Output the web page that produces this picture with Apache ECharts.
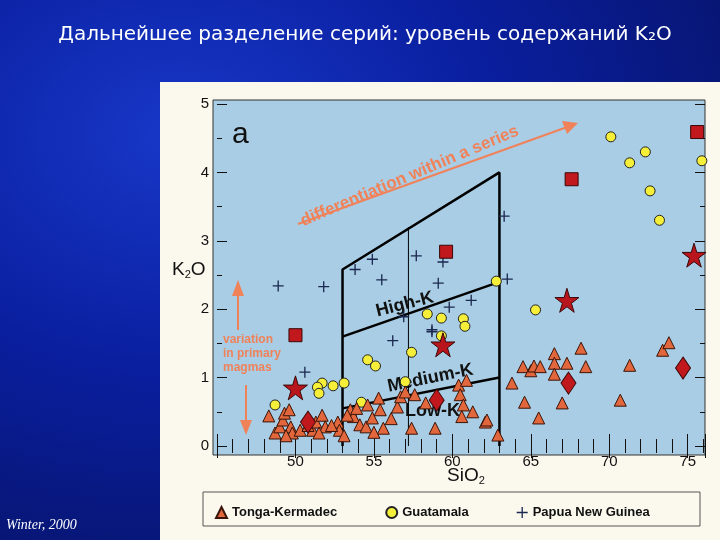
<!DOCTYPE html><html><head><meta charset="utf-8">
<script src="https://cdn.jsdelivr.net/npm/echarts@6/dist/echarts.min.js"></script>
<style>html,body{margin:0;padding:0;}#c{width:720px;height:540px;background:radial-gradient(ellipse at 25% 25%,#1838c8 0%,#0a1fa0 40%,#050f55 100%);}</style>
</head><body><div id="c"></div><script>
const titleText='Дальнейшее разделение серий: уровень содержаний K₂O';
const tonga=[[63.8,0.92],[64.5,1.16],[65.0,1.10],[65.2,1.17],[65.6,1.16],[66.5,1.35],[66.5,1.21],[66.5,1.05],[67.3,1.21],[68.2,1.43],[68.5,1.16],[64.6,0.64],[67.0,0.63],[65.5,0.41],[71.3,1.18],[70.7,0.67],[73.4,1.40],[73.8,1.51],[62.1,0.35],[62.9,0.16],
[48.3,0.44],[48.7,0.19],[49.0,0.28],[49.2,0.38],[49.3,0.48],[49.6,0.53],[49.7,0.28],[49.8,0.19],[50.3,0.23],[51.1,0.23],[51.3,0.35],[51.7,0.45],[51.9,0.28],[51.5,0.19],[52.7,0.35],[52.8,0.23],[53.1,0.15],[53.5,0.53],[53.7,0.43],[53.9,0.55],[54.1,0.31],[54.5,0.28],[54.6,0.60],[54.9,0.41],[55.3,0.70],[55.4,0.53],[55.6,0.26],[56.5,0.57],[56.7,0.72],[57.0,0.79],[57.4,0.26],[57.6,0.75],[58.3,0.63],[58.9,0.26],[60.4,0.89],[60.5,0.75],[60.7,0.60],[60.9,0.96],[61.3,0.50],[60.6,0.43],[62.2,0.38],[53.3,0.45],[52.3,0.30],[50.8,0.30],[49.4,0.15],[55.0,0.20],[56.1,0.40]];
const guatemala=[[70.1,4.52],[72.3,4.30],[71.3,4.14],[75.9,4.17],[72.6,3.73],[73.2,3.30],[62.8,2.41],[65.3,1.99],[58.4,1.93],[59.3,1.87],[60.7,1.86],[60.8,1.75],[59.3,1.61],[57.4,1.37],[54.6,1.26],[55.1,1.17],[57.0,0.94],[53.1,0.92],[52.4,0.88],[51.7,0.92],[51.4,0.86],[51.5,0.77],[48.7,0.60],[54.2,0.64]];
const png=[[48.9,2.34],[51.8,2.33],[53.8,2.58],[54.9,2.73],[57.7,2.78],[59.4,2.69],[55.5,2.43],[59.1,2.38],[61.2,2.13],[59.8,2.03],[56.9,1.89],[58.7,1.70],[63.5,2.44],[63.3,3.36],[50.6,1.08],[56.2,1.54],[58.7,1.67]];
const diamonds=[[67.4,0.92],[74.7,1.14],[59.0,0.67],[50.8,0.35]];
const stars=[[50.0,0.85],[59.4,1.48],[67.3,2.13],[75.4,2.79]];
const squares=[[59.6,2.84],[50.0,1.62],[67.6,3.90],[75.6,4.59]];
const fieldOutline=[[53,0],[53,2.58],[63,4.0],[63,0]];
const highMedLine=[[53,1.6],[63,2.4]];
const medLowLine=[[53,0.55],[63,1.0]];
const innerLine=[[57.2,0],[57.2,3.2]];
const xTicks=[50,55,60,65,70,75];
const yTicks=[0,1,2,3,4,5];

const ch=echarts.init(document.getElementById('c'));
const lineS=(d,w)=>({type:'line',data:d,symbol:'none',silent:true,lineStyle:{color:'#000',width:w},z:3});
const plus='path://M4.4,0h1.2v4.4h4.4v1.2h-4.4v4.4h-1.2v-4.4h-4.4v-1.2h4.4z';
const axisCommon={axisLine:{show:false},axisTick:{inside:true,length:12,lineStyle:{color:'#111'}},minorTick:{show:true,splitNumber:5,length:7,lineStyle:{color:'#111'}},splitLine:{show:false}};
ch.setOption({
 animation:false,
 title:{text:titleText,left:360,top:20,textAlign:'center',textStyle:{color:'#fff',fontSize:20,fontWeight:'normal',fontFamily:'DejaVu Sans'}},
 graphic:[
  {type:'rect',shape:{x:160,y:82,width:560,height:458},style:{fill:'#fbf8ee'},z:-100},
  {type:'rect',shape:{x:213,y:100,width:492,height:355},style:{fill:'#a9cde4',stroke:'#333',lineWidth:1},z:-90},
  {type:'text',left:232,top:120,style:{text:'a',fontSize:30,fill:'#111',fontFamily:'Liberation Sans'}},
  {type:'text',x:298,y:214,rotation:0.40,style:{text:'differentiation within a series',fontSize:17,fontWeight:'bold',fill:'#f0825a',fontFamily:'Liberation Sans'}},
  {type:'line',shape:{x1:298,y1:224,x2:570,y2:126},style:{stroke:'#f0825a',lineWidth:2}},
  {type:'polygon',shape:{points:[[578,123],[562,121],[567,134]]},style:{fill:'#f0825a'}},
  {type:'text',left:223,top:333,style:{text:'variation\nin primary\nmagmas',fontSize:12,fontWeight:'bold',fill:'#f0825a',lineHeight:14,align:'center',fontFamily:'Liberation Sans'}},
  {type:'line',shape:{x1:238,y1:330,x2:238,y2:290},style:{stroke:'#f0825a',lineWidth:2}},
  {type:'polygon',shape:{points:[[238,280],[232,296],[244,296]]},style:{fill:'#f0825a'}},
  {type:'line',shape:{x1:246,y1:385,x2:246,y2:425},style:{stroke:'#f0825a',lineWidth:2}},
  {type:'polygon',shape:{points:[[246,435],[240,420],[252,420]]},style:{fill:'#f0825a'}},
  {type:'text',x:374,y:303,rotation:0.25,style:{text:'High-K',fontSize:18,fontWeight:'bold',fill:'#111',fontFamily:'Liberation Sans'}},
  {type:'text',x:386,y:378,rotation:0.2,style:{text:'Medium-K',fontSize:18,fontWeight:'bold',fill:'#111',fontFamily:'Liberation Sans'}},
  {type:'text',left:405,top:402,style:{text:'Low-K',fontSize:18,fontWeight:'bold',fill:'#111',fontFamily:'Liberation Sans'}},
  {type:'text',left:172,top:260,style:{text:'K{s|2}O',rich:{s:{fontSize:11,padding:[10,0,0,0]}},fontSize:19,fill:'#111',fontFamily:'Liberation Sans'}},
  {type:'text',left:447,top:466,style:{text:'SiO{s|2}',rich:{s:{fontSize:11,padding:[10,0,0,0]}},fontSize:19,fill:'#111',fontFamily:'Liberation Sans'}},
  {type:'rect',shape:{x:203,y:492,width:497,height:34},style:{fill:'#fbf8ee',stroke:'#555',lineWidth:1},z:-80},
  {type:'text',left:6,top:518,style:{text:'Winter, 2000',fontSize:14,fontStyle:'italic',fill:'#fff',fontFamily:'Liberation Serif'}}
 ],
 legend:{left:210,top:501,itemGap:48,itemWidth:11,itemHeight:11,data:['Tonga-Kermadec','Guatamala','Papua New Guinea'],textStyle:{fontSize:13,fontWeight:'bold',color:'#111',fontFamily:'Liberation Sans'}},
 grid:{left:217,right:15,top:104,bottom:94},
 xAxis:[Object.assign({type:'value',min:45,max:76.1,interval:5,offset:9,position:'bottom',
   axisLabel:{formatter:v=>xTicks.includes(v)?String(v):'',fontSize:15,color:'#111',fontFamily:'Liberation Sans',margin:-1}},axisCommon),
  Object.assign({type:'value',min:45,max:76.1,interval:5,offset:4,position:'top',axisLabel:{show:false}},axisCommon)],
 yAxis:[{type:'value',min:0,max:5,interval:1,axisLine:{show:false},axisTick:{inside:true,length:10,lineStyle:{color:'#111'}},minorTick:{show:true,splitNumber:2,length:5,lineStyle:{color:'#111'}},splitLine:{show:false},
   axisLabel:{formatter:v=>yTicks.includes(v)?String(v):'',fontSize:15,color:'#111',fontFamily:'Liberation Sans',margin:8}},
  {type:'value',min:0,max:5,interval:1,position:'right',axisLine:{show:false},axisTick:{inside:true,length:10,lineStyle:{color:'#111'}},minorTick:{show:true,splitNumber:2,length:5,lineStyle:{color:'#111'}},splitLine:{show:false},axisLabel:{show:false}}],
 series:[
  lineS(fieldOutline,2.5),lineS(highMedLine,2.5),lineS(medLowLine,2.5),lineS(innerLine,1),
  {name:'Papua New Guinea',type:'scatter',data:png,symbol:plus,symbolSize:11,itemStyle:{color:'#1b2850',opacity:1},z:4},
  {name:'Guatamala',type:'scatter',data:guatemala,symbol:'circle',symbolSize:10,itemStyle:{color:'#f5ef3a',borderColor:'#222',borderWidth:1,opacity:1},z:5},
  {name:'Tonga-Kermadec',type:'scatter',data:tonga,symbol:'triangle',symbolSize:12,itemStyle:{color:'#e2673c',borderColor:'#3a1408',borderWidth:1,opacity:1},z:6},
  {type:'scatter',data:diamonds,symbol:'diamond',symbolSize:[15,22],itemStyle:{color:'#c0181c',borderColor:'#3a0808',borderWidth:1,opacity:1},z:7},
  {type:'scatter',data:stars,symbol:'path://M50,0L61,35L98,35L68,57L79,91L50,70L21,91L32,57L2,35L39,35Z',symbolSize:24,itemStyle:{color:'#b8161c',borderColor:'#3a0808',borderWidth:1,opacity:1},z:7},
  {type:'scatter',data:squares,symbol:'rect',symbolSize:13,itemStyle:{color:'#c0181c',borderColor:'#3a0808',borderWidth:1,opacity:1},z:7}
 ]
});
</script></body></html>
